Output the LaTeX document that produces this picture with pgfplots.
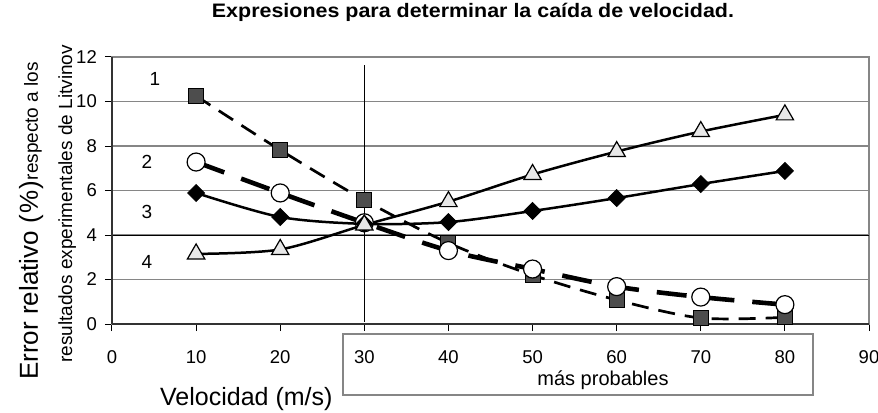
\documentclass[border=0pt]{standalone}
\usepackage{pgfplots}
\pgfplotsset{compat=1.18}
\usepackage{fontspec}
\setmainfont{Liberation Sans}
\definecolor{gridc}{RGB}{134,134,134}
\definecolor{sqfill}{RGB}{77,77,77}
\definecolor{trfill}{RGB}{232,232,232}
\begin{document}
\begin{tikzpicture}
\begin{axis}[
  scale only axis, width=757pt, height=267pt,
  xmin=0, xmax=90, ymin=0, ymax=12,
  xtick={0,10,...,90}, ytick={0,2,...,12},
  ymajorgrids,
  grid style={draw=gridc, line width=1.2pt},
  axis line style={draw=gridc, line width=1.2pt},
  tick align=outside, major tick length=7pt,
  tick style={black, line width=1pt},
  xtick pos=bottom, ytick pos=left,
  clip=false,
  /pgf/number format/assume math mode=true,
  ticklabel style={font=\fontsize{18.5}{20}\selectfont},
  yticklabel style={anchor=east, inner sep=0pt, xshift=-8pt},
  xticklabel style={anchor=base, inner sep=0pt, yshift=-32pt},
]
% horizontal black line at y=4
\draw[black, line width=1pt] (axis cs:0,4) -- (axis cs:90,4);
% left and bottom axis lines darker
\draw[black!80, line width=1.2pt] (axis cs:0,0) -- (axis cs:0,12);
\draw[black!80, line width=1.2pt] (axis cs:0,0) -- (axis cs:90,0);
% vertical line at 30
\draw[black, line width=1pt] (axis cs:30,0.1) -- (axis cs:30,11.65);

% series 1: squares, dashed
\addplot[black, line width=2.7pt, dash pattern=on 17pt off 10pt, smooth, tension=0.5,
  mark=square*, mark size=7.5pt, mark options={solid, fill=sqfill, draw=black, line width=1pt}]
  coordinates {(10,10.25) (20,7.82) (30,5.57) (40,3.64) (50,2.2) (60,1.08) (70,0.27) (80,0.3)};
% series 2: circles, thick dashed
\addplot[black, line width=4.6pt, dash pattern=on 30pt off 18pt, smooth, tension=0.5,
  mark=*, mark size=9pt, mark options={solid, fill=white, draw=black, line width=1.2pt}]
  coordinates {(10,7.28) (20,5.89) (30,4.55) (40,3.3) (50,2.47) (60,1.68) (70,1.21) (80,0.87)};
% series 3: diamonds, solid
\addplot[black, line width=2.5pt, smooth, tension=0.5,
  mark=square*, mark size=6pt, mark options={rotate=45, fill=black, draw=black, line width=0.8pt}]
  coordinates {(10,5.89) (20,4.81) (30,4.5) (40,4.58) (50,5.08) (60,5.66) (70,6.29) (80,6.88)};
% series 4: triangles, solid
\addplot[black, line width=2.5pt, smooth, tension=0.5,
  mark=triangle*, mark size=10pt, mark options={fill=trfill, draw=black, line width=1.2pt}]
  coordinates {(10,3.15) (20,3.35) (30,4.45) (40,5.5) (50,6.72) (60,7.75) (70,8.65) (80,9.4)};

% series labels
\node[font=\fontsize{19}{20}\selectfont] at (axis cs:5.11,11.0) {1};
\node[font=\fontsize{19}{20}\selectfont] at (axis cs:4.16,7.28) {2};
\node[font=\fontsize{19}{20}\selectfont] at (axis cs:4.16,5.03) {3};
\node[font=\fontsize{19}{20}\selectfont] at (axis cs:4.16,2.79) {4};

% box más probables
\draw[draw=gridc, line width=1.3pt] (rel axis cs:0.3051,-0.0375) rectangle (rel axis cs:0.926,-0.266);
\node[anchor=base, inner sep=0pt, font=\fontsize{20}{22}\selectfont] at (rel axis cs:0.6486,-0.2285) {más probables};

% title
\node[anchor=base, inner sep=0pt] at (rel axis cs:0.4769,1.1498)
  {\scalebox{1.1}[1]{\fontsize{19.5}{21}\selectfont\bfseries Expresiones para determinar la caída de velocidad.}};
% x label
\node[anchor=base west, inner sep=0pt, font=\fontsize{25}{28}\selectfont] at (rel axis cs:0.0634,-0.3034) {Velocidad (m/s)};
% y label lines
\node[anchor=base west, inner sep=0pt, rotate=90] at (rel axis cs:-0.0978,-0.2097)
  {\fontsize{26}{28}\selectfont Error relativo (\kern1.5pt\%\kern1.5pt)\fontsize{19}{21}\selectfont respecto a los};
\node[anchor=base west, inner sep=0pt, rotate=90] at (rel axis cs:-0.0528,-0.146)
  {\fontsize{19}{21}\selectfont resultados experimentales de Litvinov};

\coordinate (bbl) at (rel axis cs:-0.14795,-0.32959);
\coordinate (btr) at (rel axis cs:1.01189,1.21348);
\end{axis}
\pgfresetboundingbox
\useasboundingbox (bbl) rectangle (btr);
\end{tikzpicture}
\end{document}
